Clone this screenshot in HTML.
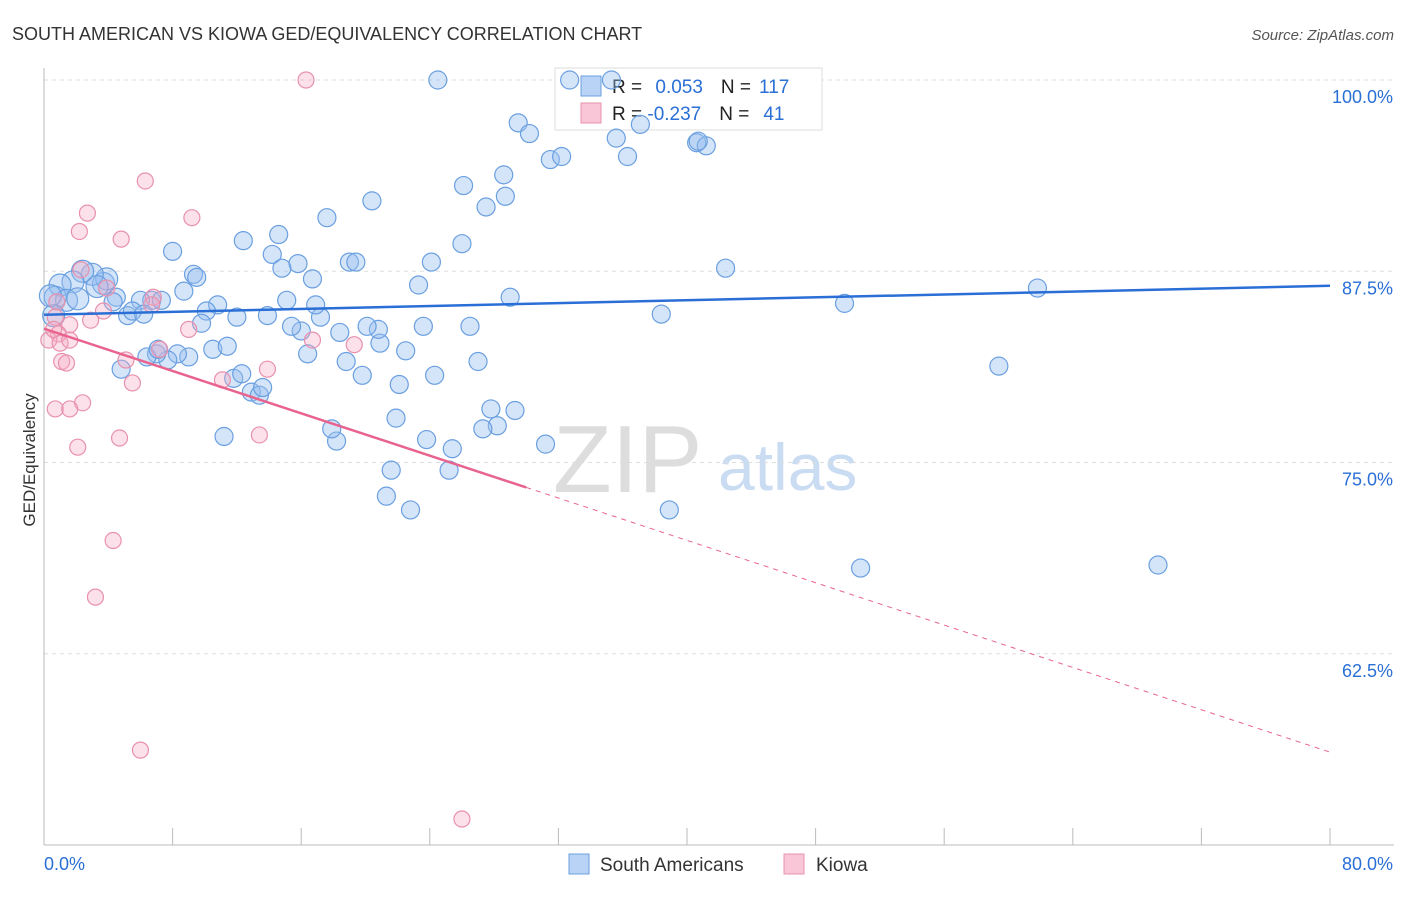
<!DOCTYPE html>
<html><head><meta charset="utf-8">
<style>
body{margin:0;background:#fff;font-family:"Liberation Sans",sans-serif;}
svg text{font-family:"Liberation Sans",sans-serif;}
</style></head>
<body>
<svg id="chart" width="1406" height="892">
<text x="12" y="40" font-size="18" fill="#333">SOUTH AMERICAN VS KIOWA GED/EQUIVALENCY CORRELATION CHART</text>
<text x="1394" y="40" font-size="15" fill="#555" font-style="italic" text-anchor="end">Source: ZipAtlas.com</text>
<text x="35" y="460" font-size="17" fill="#333" text-anchor="middle" transform="rotate(-90 35 460)">GED/Equivalency</text>
<text x="553" y="492" font-size="96" fill="#ddd" font-family="Liberation Serif">ZIP</text>
<text x="718" y="490" font-size="66" fill="#c9dcf2">atlas</text>
<g id="grid"></g>
<g id="axes"></g>
<g>
<rect x="555" y="68" width="267" height="62" fill="#fff" stroke="#ddd"/>
<rect x="581" y="76" width="20" height="20" fill="#b8d3f5" stroke="#6a9fe0"/>
<rect x="581" y="103" width="20" height="20" fill="#f8c6d6" stroke="#e891ad"/>
<text x="612" y="93" font-size="19" fill="#222">R = <tspan fill="#2a6fd6" dx="8">0.053</tspan><tspan fill="#222" dx="18">N =</tspan><tspan fill="#2a6fd6" dx="8">117</tspan></text>
<text x="612" y="120" font-size="19" fill="#222">R = <tspan fill="#2a6fd6">-0.237</tspan><tspan fill="#222" dx="18">N =</tspan><tspan fill="#2a6fd6" dx="14">41</tspan></text>
</g>
<g id="pts"></g>
<g id="lines"></g>
<g>
<rect x="569" y="854" width="20" height="20" fill="#b8d3f5" stroke="#6a9fe0"/>
<text x="600" y="871" font-size="19" fill="#333">South Americans</text>
<rect x="784" y="854" width="20" height="20" fill="#f8c6d6" stroke="#e891ad"/>
<text x="816" y="871" font-size="19" fill="#333">Kiowa</text>
</g>
</svg>
<script>
const yTicks=[100,87.5,75,62.5];
const yTickLabels=["100.0%","87.5%","75.0%","62.5%"];
const blueX=[24.5,32.7,35.3,29.5,30.2,37.1,35.6,31.5,32.2,36.3,40.6,41.2,40.7,28.6,26.1,28.7,27.5,20.4,17.6,12.4,14.6,8.0,14.2,15.8,14.8,26.0,24.1,19.0,19.4,16.7,9.3,9.5,8.7,23.3,29.0,42.4,49.8,61.8,38.4,59.4,50.8,69.3,38.9,31.2,29.3,27.8,28.2,27.3,25.4,25.2,23.8,21.6,21.3,22.8,21.9,22.1,24.3,22.5,23.6,26.5,27.0,20.9,20.8,20.1,18.4,18.8,19.8,18.2,17.9,16.4,16.0,15.4,17.2,16.9,15.1,13.9,12.0,10.8,10.1,9.8,10.5,11.4,11.2,11.8,12.3,12.9,13.4,13.6,9.0,8.3,7.7,7.0,6.4,7.1,6.7,7.3,6.0,4.5,4.3,5.2,5.5,6.2,4.8,3.7,3.9,3.0,2.4,1.8,1.0,0.7,1.4,2.1,3.3,0.6,0.4];
const blueY=[100,100,100,97.2,96.5,97.1,96.2,94.8,95.0,95.0,95.9,95.7,96.0,93.8,93.1,92.4,91.7,92.1,91.0,89.5,89.9,88.8,88.6,88.0,87.7,89.3,88.1,88.1,88.1,87.0,87.3,87.1,86.2,86.6,85.8,87.7,85.4,86.4,84.7,81.3,68.1,68.3,71.9,76.2,78.4,78.5,77.4,77.2,75.9,74.5,76.5,74.5,72.8,71.9,77.9,80.1,80.7,82.3,83.9,83.9,81.6,82.8,83.7,83.9,83.5,81.6,80.7,76.4,77.2,82.1,83.6,83.9,84.5,85.3,85.6,84.6,84.5,85.3,84.9,84.1,82.4,82.6,76.7,80.5,80.8,79.6,79.4,79.9,81.9,82.1,81.7,82.1,81.9,82.4,85.6,85.6,85.6,85.8,85.5,84.6,84.9,84.7,81.1,86.7,87.0,87.3,87.5,86.8,86.6,85.8,85.6,85.7,86.5,84.6,85.9];
const pinkX=[16.3,6.3,9.2,2.7,2.2,4.8,2.3,3.9,6.8,6.7,2.9,3.7,0.7,1.6,0.9,0.3,1.0,1.6,9.0,16.7,19.3,7.2,5.1,1.1,1.4,5.5,11.1,13.9,2.4,0.7,1.6,4.7,2.1,13.4,4.3,3.2,6.0,26.0,0.8,0.6];
const pinkY=[100,93.4,91.0,91.3,90.1,89.6,87.6,86.4,85.8,85.3,84.3,84.9,84.5,84.0,83.4,83.0,82.8,83.0,83.7,83.0,82.7,82.4,81.7,81.6,81.5,80.2,80.4,81.1,78.9,78.5,78.5,76.6,76.0,76.8,69.9,66.2,56.2,51.7,85.5,83.7];
const blueTrend=[84.66,86.55];
const pinkTrend=[83.75,56.07];
const pinkSolidEnd=30;
const NS="http://www.w3.org/2000/svg";
const X=v=>44+v/80*1286, Y=v=>80+(100-v)*15.3;
function mk(t,a,p){const e=document.createElementNS(NS,t);for(const k in a)e.setAttribute(k,a[k]);p.appendChild(e);return e;}
const grid=document.getElementById('grid'),axes=document.getElementById('axes'),pts=document.getElementById('pts'),lines=document.getElementById('lines');
yTicks.forEach((t,i)=>{
 const l=mk('line',{x1:44,x2:1394,y1:Y(t),y2:Y(t),stroke:'#ddd','stroke-dasharray':'4,4'},grid);
 
 
 const tx=mk('text',{x:1393,y:Y(t)+23,'font-size':18,fill:'#2a6fd6','text-anchor':'end'},axes);
 tx.textContent=yTickLabels[i];
 
 
});
mk('line',{x1:44,x2:44,y1:68,y2:845,stroke:'#bbb'},axes);
mk('line',{x1:44,x2:1394,y1:845,y2:845,stroke:'#bbb'},axes);
for(let i=0;i<=10;i++){const t=mk('line',{x1:X(i*8),x2:X(i*8),y1:828,y2:845,stroke:'#bbb'},axes);
 
 }
const xl=mk('text',{x:44,y:870,'font-size':18,fill:'#2a6fd6'},axes);xl.textContent='0.0%';


const xr=mk('text',{x:1393,y:870,'font-size':18,fill:'#2a6fd6','text-anchor':'end'},axes);xr.textContent='80.0%';


blueX.forEach((v,i)=>{const c=mk('circle',{cx:X(v),cy:Y(blueY[i]),r:i>=103?11:9,fill:'rgba(150,190,240,0.4)',stroke:'#6a9fe0','stroke-width':1.2},pts);
 
 });
pinkX.forEach((v,i)=>{const c=mk('circle',{cx:X(v),cy:Y(pinkY[i]),r:8,fill:'rgba(245,170,195,0.35)',stroke:'#e891ad','stroke-width':1.2},pts);
 
 });
const bl=mk('line',{x1:X(0),y1:Y(blueTrend[0]),x2:X(80),y2:Y(blueTrend[1]),stroke:'#2a6fd6','stroke-width':2.5},lines);


const pAt=v=>pinkTrend[0]+(pinkTrend[1]-pinkTrend[0])*v/80;
const pl=mk('line',{x1:X(0),y1:Y(pAt(0)),x2:X(pinkSolidEnd),y2:Y(pAt(pinkSolidEnd)),stroke:'#e8648f','stroke-width':2.5},lines);


const pd=mk('line',{x1:X(pinkSolidEnd),y1:Y(pAt(pinkSolidEnd)),x2:X(80),y2:Y(pAt(80)),stroke:'#e8648f','stroke-width':1,'stroke-dasharray':'5,5'},lines);


</script>
</body></html>
